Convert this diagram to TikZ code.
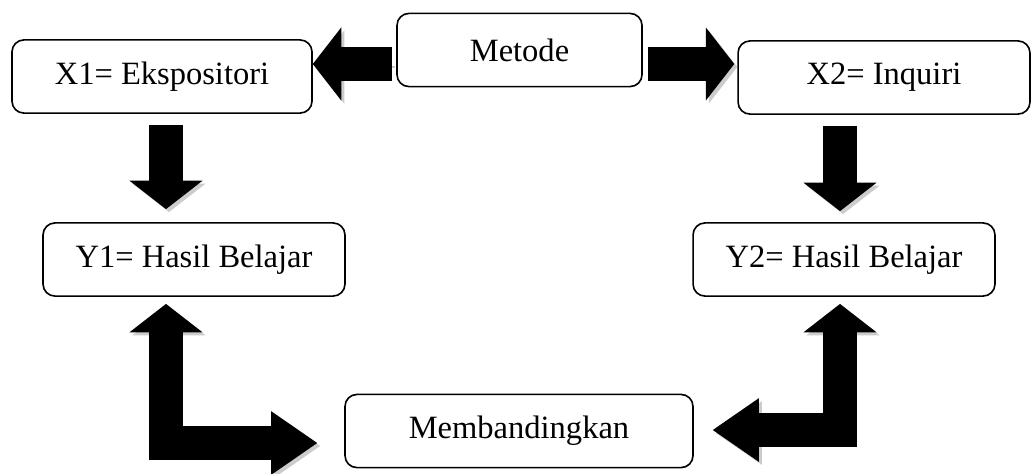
\documentclass[tikz,border=0pt]{standalone}
\usepackage{fontspec}
\setmainfont{Liberation Serif}
\usetikzlibrary{arrows.meta, calc}

\begin{document}
\begin{tikzpicture}[x = 0.369pt, y = -0.369pt, % one unit is one pixel of the layout
                line join = miter, line cap = butt,
                Head/.tip = {Triangle[length = 10.5pt, width = 27pt, line width = 0pt]},
                LongHead/.tip = {Triangle[length = 17pt, width = 23.5pt, line width = 0pt]}
            ]

            \tikzstyle{box}=[draw = black, line width = 0.6pt, rounded corners = 4.4pt,
            minimum height = 27pt, inner sep = 0pt,
            font = \fontsize{12pt}{14pt}\selectfont]
            \tikzstyle{blockarrow}=[line width = 12.5pt, draw = black,
            preaction = {draw = gray!40, transform canvas = {shift = {(1.1pt,-1.1pt)}}}]

            \useasboundingbox (0,0) rectangle (1035,473);

            \node[box, minimum width = 90.4pt] (metode) at (519.5,50) {Metode};
            \node[box, minimum width = 110.7pt] (x1) at (162,76.5) {X1= Ekspositori};
            \node[box, minimum width = 107.7pt] (x2) at (884,77.5) {X2= Inquiri};
            \node[box, minimum width = 111.4pt] (y1) at (194,259.5) {Y1= Hasil Belajar};
            \node[box, minimum width = 111.4pt] (y2) at (844,259.5) {Y2= Hasil Belajar};
            \node[box, minimum width = 128.4pt] (banding) at (519,431) {Membandingkan};

            % block arrows
            \draw[blockarrow, -Head] ($(metode.west)+(-4,14)$) coordinate (a)
            -- (a -| x1.east);
            \draw[blockarrow, -Head] ($(metode.east)+(5,14)$) coordinate (b)
            -- ($(b -| x2.west)+(-3,0)$);
            \draw[blockarrow, -Head] ($(x1.south)+(4,11)$) coordinate (c)
            -- ($(c |- y1.north)+(0,-13)$);
            \draw[blockarrow, -Head] ($(y2.north |- x2.south)+(-4,11)$) coordinate (d)
            -- ($(d |- y2.north)+(0,-11)$);
            \draw[blockarrow, Head-LongHead] ($(y1.south)+(-28,7)$)
            |- ($(banding.west)+(-27,12)$);
            \draw[blockarrow, Head-LongHead] ($(y2.south)+(-4,7)$)
            |- ($(banding.east)+(19,-1)$);
\end{tikzpicture}
\end{document}
